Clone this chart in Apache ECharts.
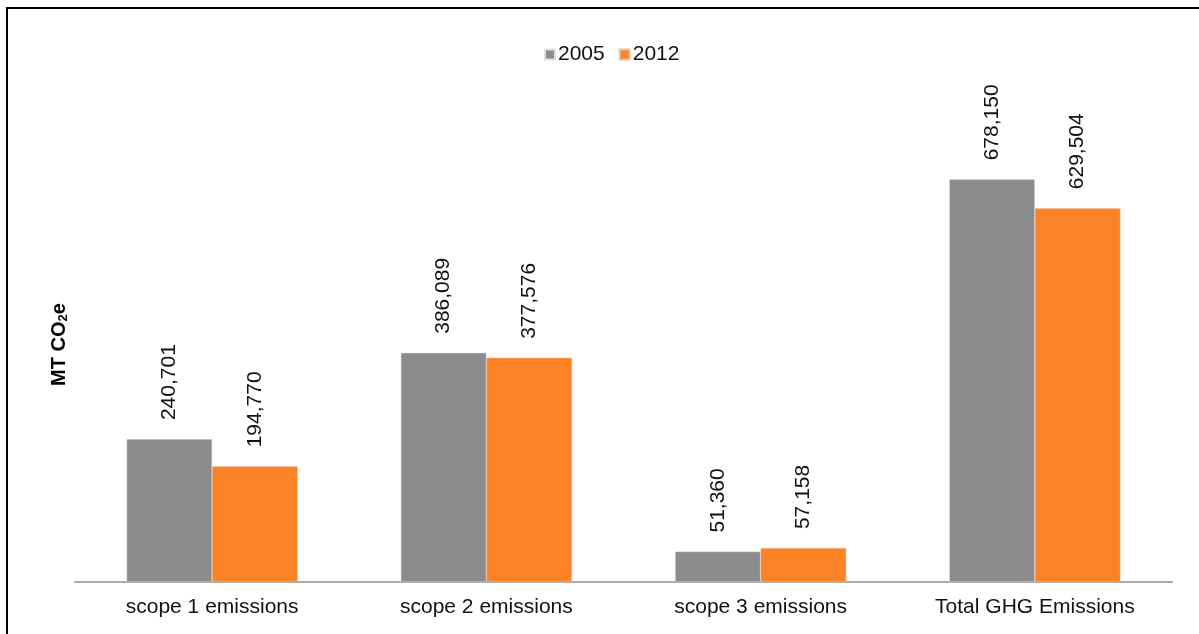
<!DOCTYPE html>
<html>
<head>
<meta charset="utf-8">
<script src="https://cdn.jsdelivr.net/npm/echarts@6/dist/echarts.min.js"></script>
<style>
  html, body { margin: 0; padding: 0; background: #fff; }
  #chart { width: 1199px; height: 634px; }
</style>
</head>
<body>
<div id="chart"></div>
<script>
var categories = ["scope 1 emissions", "scope 2 emissions", "scope 3 emissions", "Total GHG Emissions"];
var seriesNames = ["2005", "2012"];
var values2005 = [240701, 386089, 51360, 678150];
var values2012 = [194770, 377576, 57158, 629504];
var colors = ["#8c8c8f", "#fb8226"];

var font = "'Liberation Sans', Arial, Helvetica, sans-serif";

function fmt(p) {
  return p.value.toString().replace(/\B(?=(\d{3})+(?!\d))/g, ",");
}

var chart = echarts.init(document.getElementById("chart"));
chart.setOption({
  color: colors,
  animation: false,
  textStyle: { fontFamily: font },
  graphic: [
    {
      type: "polyline",
      shape: { points: [[7, 634], [7, 8], [1199, 8]] },
      style: { stroke: "#000", lineWidth: 2, fill: null }
    }
  ],
  legend: {
    data: seriesNames,
    top: 39,
    left: 539,
    itemWidth: 10,
    itemHeight: 10,
    itemGap: 14,
    icon: "rect",
    textStyle: { fontSize: 21, color: "#111", fontFamily: font, padding: [0, 0, 0, -2] }
  },
  grid: {
    left: 75,
    right: 27,
    top: 107,
    bottom: 52
  },
  xAxis: {
    type: "category",
    data: categories,
    axisLine: { lineStyle: { color: "#aaaaaa", width: 2 } },
    axisTick: { show: false },
    axisLabel: { fontSize: 21, color: "#111", margin: 15, fontFamily: font }
  },
  yAxis: {
    type: "value",
    min: 0,
    max: 800000,
    name: "{a|MT CO}{b|2}{a|e}",
    nameLocation: "middle",
    nameRotate: 90,
    nameGap: 5,
    nameTextStyle: {
      rich: {
        a: { fontSize: 20, fontWeight: "bold", color: "#000", fontFamily: font },
        b: { fontSize: 13, fontWeight: "bold", color: "#000", fontFamily: font, verticalAlign: "bottom", padding: [8, 0, 0, 0] }
      }
    },
    axisLine: { show: false },
    axisTick: { show: false },
    axisLabel: { show: false },
    splitLine: { show: false }
  },
  series: [
    {
      name: seriesNames[0],
      type: "bar",
      data: values2005,
      barGap: "0%",
      barCategoryGap: "37.6%",
      itemStyle: { borderColor: "#e0e0e0", borderWidth: 0.5 },
      label: {
        show: true,
        position: "top",
        rotate: 90,
        align: "left",
        verticalAlign: "middle",
        distance: 19,
        fontSize: 21,
        color: "#111",
        fontFamily: font,
        formatter: fmt
      }
    },
    {
      name: seriesNames[1],
      type: "bar",
      data: values2012,
      itemStyle: { borderColor: "#f0c09a", borderWidth: 0.5 },
      label: {
        show: true,
        position: "top",
        rotate: 90,
        align: "left",
        verticalAlign: "middle",
        distance: 19,
        fontSize: 21,
        color: "#111",
        fontFamily: font,
        formatter: fmt
      }
    }
  ]
});
</script>
</body>
</html>
